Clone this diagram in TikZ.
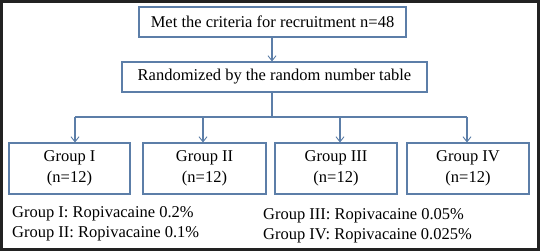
\documentclass[tikz,border=0pt]{standalone}
\usepackage{fontspec}
\setmainfont{Liberation Serif}
\usetikzlibrary{arrows.meta}
\definecolor{boxblue}{RGB}{92,126,168}
\definecolor{framegray}{RGB}{34,34,34}
\tikzset{
  boxnode/.style={draw=boxblue, line width=1.1pt, inner sep=0pt, align=center,
    font=\fontsize{16.5}{21}\selectfont, text=black},
  conn/.style={draw=boxblue, line width=1.1pt},
  arr/.style={conn, -{Straight Barb[length=5pt,width=8pt,line width=0.9pt]}},
  note/.style={anchor=base west, inner sep=0pt, font=\fontsize{16.5}{20}\selectfont}
}
\begin{document}
\begin{tikzpicture}[x=1pt,y=-1pt]
\useasboundingbox (0,0) rectangle (540,251);
\fill[white] (0,0) rectangle (540,251);
\draw[framegray, line width=2.6pt] (1.3,1.3) rectangle (538.7,249.7);
% top boxes
\node[boxnode, minimum width=267pt, minimum height=30pt] (b1) at (272.5,22) {Met the criteria for recruitment n=48};
\node[boxnode, minimum width=305pt, minimum height=30pt] (b2) at (274.5,77) {Randomized by the random number table};
% group boxes
\node[boxnode, minimum width=121pt, minimum height=51pt] (g1) at (69.5,168.5) {Group I\\(n=12)};
\node[boxnode, minimum width=123pt, minimum height=51pt] (g2) at (204.5,168.5) {Group II\\(n=12)};
\node[boxnode, minimum width=122pt, minimum height=51pt] (g3) at (336,168.5) {Group III\\(n=12)};
\node[boxnode, minimum width=122pt, minimum height=51pt] (g4) at (468,168.5) {Group IV\\(n=12)};
% junction coordinates
\coordinate (top) at (272,37);
\coordinate (mid) at (272,117);
\coordinate (j1) at (75,117);
\coordinate (j2) at (203,117);
\coordinate (j3) at (340,117);
\coordinate (j4) at (467,117);
% connectors
\draw[arr] (top) -- (top |- b2.north);
\draw[conn] (mid |- b2.south) -- (mid);
\draw[conn] (j1) -- (j4);
\draw[arr] (j1) -- (j1 |- g1.north);
\draw[arr] (j2) -- (j2 |- g2.north);
\draw[arr] (j3) -- (j3 |- g3.north);
\draw[arr] (j4) -- (j4 |- g4.north);
% notes
\node[note] (n1) at (12,217) {Group I: Ropivacaine 0.2\%};
\node[note] (n2) at (12,237) {Group II: Ropivacaine 0.1\%};
\node[note] (n3) at (263,219) {Group III: Ropivacaine 0.05\%};
\node[note] (n4) at (263,239) {Group IV: Ropivacaine 0.025\%};
\end{tikzpicture}
\end{document}
